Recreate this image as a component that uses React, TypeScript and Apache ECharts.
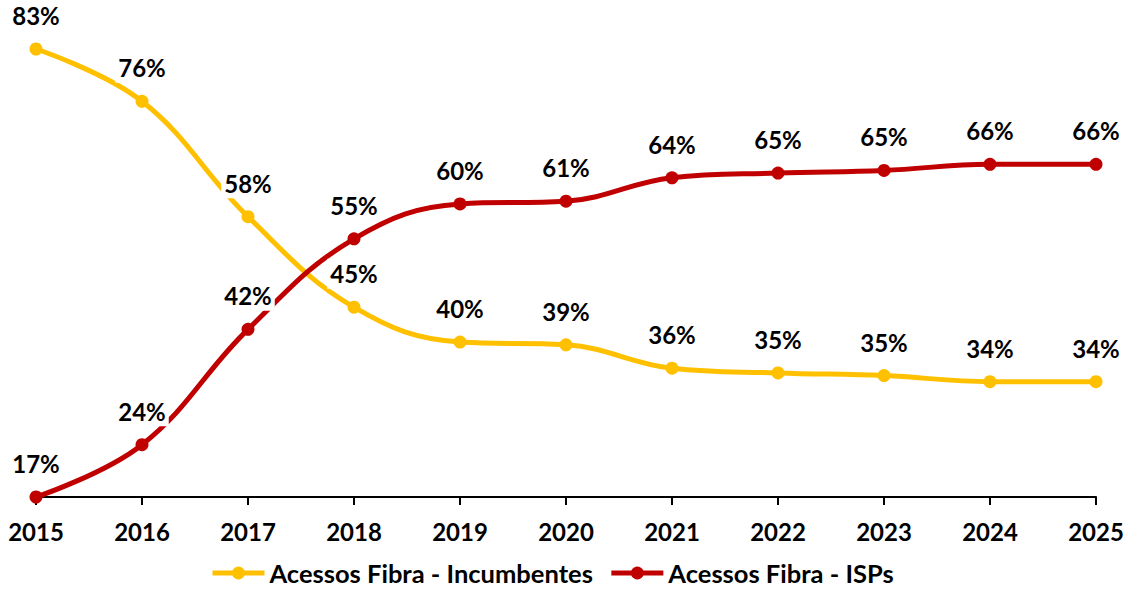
import React, { useEffect, useRef } from "react";
import * as echarts from "echarts";

const years = ["2015", "2016", "2017", "2018", "2019", "2020", "2021", "2022", "2023", "2024", "2025"];
const incumbentes = [83.4, 75.6, 58.4, 44.9, 39.7, 39.3, 35.8, 35.1, 34.7, 33.8, 33.8];
const isps = [16.6, 24.4, 41.6, 55.1, 60.3, 60.7, 64.2, 64.9, 65.3, 66.2, 66.2];
const seriesNames = ["Acessos Fibra - Incumbentes", "Acessos Fibra - ISPs"];

const FONT = "Lato, 'Noto Sans', sans-serif";

export default function App() {
  const ref = useRef<HTMLDivElement>(null);
  useEffect(() => {
    if (!ref.current) return;
    const chart = echarts.init(ref.current, undefined, { renderer: "svg" });
    const label = {
      show: true,
      position: "top" as const,
      distance: 12,
      formatter: (p: any) => Math.round(p.value) + "%",
      fontFamily: FONT,
      fontSize: 24,
      fontWeight: "bold" as const,
      color: "#000",
      backgroundColor: "#fff",
      padding: [1, 3],
      lineHeight: 28,
    };
    chart.setOption({
      animation: false,
      backgroundColor: "#fff",
      grid: { left: 36, right: 34, top: 49, bottom: 92, containLabel: false },
      xAxis: {
        type: "category",
        data: years,
        boundaryGap: false,
        axisLine: { show: true, lineStyle: { color: "#000", width: 2 } },
        axisTick: { show: true, alignWithLabel: true, length: 8, lineStyle: { color: "#000", width: 2 } },
        axisLabel: { fontFamily: FONT, fontSize: 24, fontWeight: "bold", color: "#000", margin: 22 },
        splitLine: { show: false },
      },
      yAxis: {
        type: "value",
        min: 16.6,
        max: 83.4,
        show: false,
        splitLine: { show: false },
      },
      legend: {
        left: 210,
        top: 560,
        padding: 0,
        itemWidth: 52,
        itemHeight: 16,
        itemGap: 16,
        lineStyle: { width: 5 },
        textStyle: { fontFamily: FONT, fontSize: 25.5, fontWeight: "bold", color: "#000", lineHeight: 26 },
        data: seriesNames,
      },
      series: [
        {
          name: seriesNames[0],
          type: "line",
          data: incumbentes,
          smooth: 0.4,
          symbol: "circle",
          symbolSize: 13,
          lineStyle: { color: "#FFC000", width: 5 },
          itemStyle: { color: "#FFC000" },
          label,
        },
        {
          name: seriesNames[1],
          type: "line",
          data: isps,
          smooth: 0.4,
          symbol: "circle",
          symbolSize: 13,
          lineStyle: { color: "#C00000", width: 5 },
          itemStyle: { color: "#C00000" },
          label,
        },
      ],
    });
    return () => chart.dispose();
  }, []);
  return (
    <div
      ref={ref}
      style={{ position: "fixed", left: 0, top: 0, width: 1130, height: 589, background: "#fff" }}
    />
  );
}
